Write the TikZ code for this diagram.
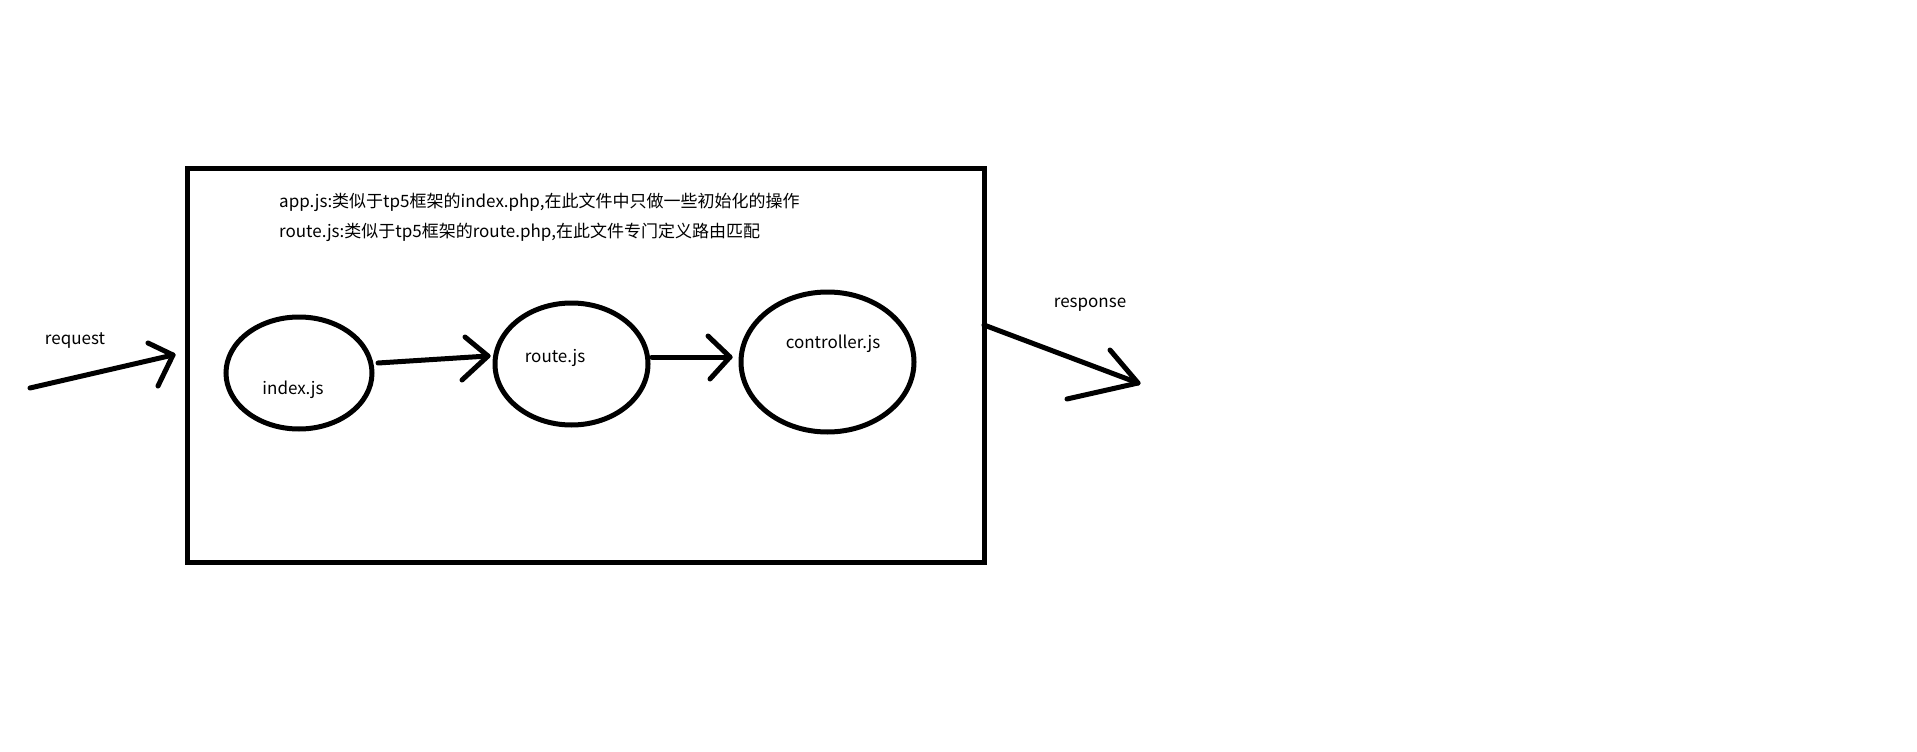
\documentclass[tikz,border=0pt]{standalone}
\usepackage{fontspec}
\setmainfont{Noto Sans CJK SC}
\usetikzlibrary{shapes.geometric}
\begin{document}
\begin{tikzpicture}[x=1pt,y=-1pt,
  thickline/.style={line width=5pt,line cap=round,line join=round},
  oval/.style={draw,ellipse,line width=5pt,inner sep=0pt,outer sep=0pt},
  lbl/.style={font=\fontsize{17}{20}\selectfont,inner sep=0pt},
  note/.style={font=\fontsize{17}{20}\selectfont,inner sep=0pt,anchor=base west}]
\useasboundingbox (0,0) rectangle (1917,752);
\fill[white] (0,0) rectangle (1917,752);
% frame
\node[draw,line width=5pt,inner sep=0pt,minimum width=796.5pt,minimum height=393.5pt,anchor=north west] (frame) at (185,166) {};
% notes
\node[note] (n1) at (279,207) {app.js:类似于tp5框架的index.php,在此文件中只做一些初始化的操作};
\node[note] (n2) at (279,237) {route.js:类似于tp5框架的route.php,在此文件专门定义路由匹配};
% ellipses
\node[oval,minimum width=146pt,minimum height=112pt] (idx) at (299,373) {};
\node[oval,minimum width=153pt,minimum height=122pt] (rt) at (571.5,364) {};
\node[oval,minimum width=173pt,minimum height=140pt] (ctl) at (827.5,362) {};
% labels
\node[lbl] (idxl) at (293,390) {index.js};
\node[lbl] (rtl) at (555,358) {route.js};
\node[lbl] (ctll) at (833,344) {controller.js};
\node[lbl] (reql) at (75,341) {request};
\node[lbl] (resl) at (1090,305) {response};
% request arrow
\coordinate (reqs) at (30,388);
\coordinate (reqt) at (173,355);
\coordinate (reqa) at (148,343);
\coordinate (reqb) at (158,386);
\draw[thickline] (reqs) -- (reqt);
\draw[thickline] (reqa) -- (reqt) -- (reqb);
% index -> route
\coordinate (a1s) at (378,363);
\coordinate (a1t) at (488,356);
\coordinate (a1a) at (465,337);
\coordinate (a1b) at (462,380);
\draw[thickline] (a1s) -- (a1t);
\draw[thickline] (a1a) -- (a1t) -- (a1b);
% route -> controller
\coordinate (a2s) at (652,357);
\coordinate (a2t) at (730,357);
\coordinate (a2a) at (708,336);
\coordinate (a2b) at (710,379);
\draw[thickline] (a2s) -- (a2t);
\draw[thickline] (a2a) -- (a2t) -- (a2b);
% response arrow
\coordinate (ress) at (984,325);
\coordinate (rest) at (1138,383);
\coordinate (resa) at (1110,350);
\coordinate (resb) at (1067,399);
\draw[thickline] (ress) -- (rest);
\draw[thickline] (resa) -- (rest) -- (resb);
\end{tikzpicture}
\end{document}
